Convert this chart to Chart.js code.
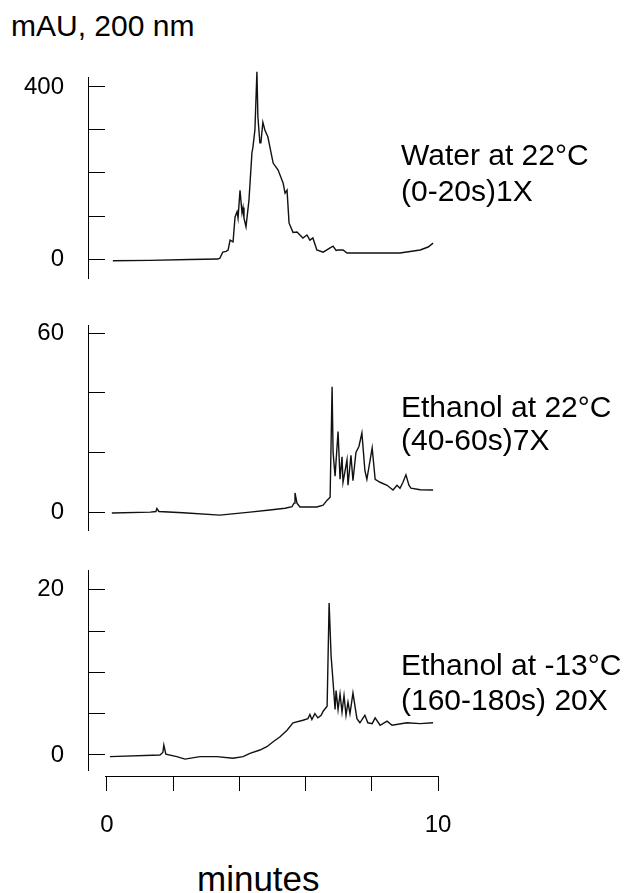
<!DOCTYPE html>
<html>
<head>
<meta charset="utf-8">
<script src="https://cdn.jsdelivr.net/npm/chart.js@4/dist/chart.umd.min.js"></script>
<style>
  body { margin: 0; background: #fff; width: 626px; height: 893px; position: relative; overflow: hidden;
         font-family: "Liberation Sans", Arial, sans-serif; color: #000; }
  .panel { position: absolute; left: 0; width: 460px; }
  .txt { position: absolute; white-space: nowrap; line-height: 1; }
  .lab { font-size: 30px; left: 401px; }
</style>
</head>
<body>
<div class="txt" style="left:11px; top:11px; font-size:30px;">mAU, 200 nm</div>

<div class="panel" style="top:50px; height:240px;"><canvas id="c1"></canvas></div>
<div class="panel" style="top:300px; height:240px;"><canvas id="c2"></canvas></div>
<div class="panel" style="top:545px; height:235px;"><canvas id="c3"></canvas></div>
<div class="panel" style="top:740px; height:100px;"><canvas id="cx"></canvas></div>

<div class="txt lab" style="top:140px;">Water at 22°C</div>
<div class="txt lab" style="top:176px;">(0-20s)1X</div>
<div class="txt lab" style="top:392px;">Ethanol at 22°C</div>
<div class="txt lab" style="top:425px;">(40-60s)7X</div>
<div class="txt lab" style="top:650px;">Ethanol at -13°C</div>
<div class="txt lab" style="top:685px;">(160-180s) 20X</div>

<div class="txt" style="left:197px; top:861px; font-size:35px;">minutes</div>

<script>
// ---- data ----
// water 22 C, 0-20 s, 1X
const waterTime = [0.18, 1.3, 2.5, 3.35, 3.41, 3.5, 3.6, 3.66, 3.72, 3.81, 3.87, 3.93, 3.96, 4.02, 4.08, 4.11, 4.14, 4.2,
  4.29, 4.38, 4.41, 4.47, 4.53, 4.56, 4.62, 4.65, 4.71, 4.77, 4.86, 5.02, 5.17, 5.32, 5.38, 5.44, 5.5, 5.62, 5.74,
  5.92, 6.04, 6.13, 6.22, 6.34, 6.53, 6.74, 6.83, 6.92, 6.98, 7.13, 7.25, 7.85, 8.34, 8.85, 9.46, 9.7, 9.85];
const waterMAU = [-4, -3, -1, 0, 2, 16, 18, 21, 44, 40, 98, 110, 95, 160, 107, 120, 95, 75,
  137, 247, 260, 300, 435, 330, 270, 270, 318, 300, 284, 223, 207, 177, 153, 160, 84, 62, 63,
  49, 56, 44, 49, 21, 16, 26, 30, 20, 21, 21, 14, 14, 14, 14, 21, 28, 37];

// ethanol 22 C, 40-60 s, 7X
const eth22Time = [0.15, 1.31, 1.48, 1.51, 1.57, 2.3, 3.41, 4.32, 4.92, 5.38, 5.59, 5.65, 5.68, 5.74, 5.83, 6.34,
  6.53, 6.65, 6.74, 6.8, 6.83, 6.89, 6.98, 7.04, 7.1, 7.13, 7.25, 7.28, 7.37, 7.43, 7.52, 7.61, 7.7, 7.79, 7.85,
  8.01, 8.1, 8.25, 8.46, 8.64, 8.76, 8.85, 8.94, 9.03, 9.12, 9.18, 9.46, 9.85];
const eth22MAU = [-0.3, 0, 0.2, 1.2, 0.2, -0.2, -1, 0, 0.7, 1.3, 1.8, 3, 6.4, 3, 1.7, 1.7,
  2.3, 4, 5, 42, 20, 12, 27, 11, 18.5, 10, 17.5, 9, 19, 10.5, 20, 22, 26.5, 14, 11,
  21.5, 11, 10, 9, 7.4, 9, 8, 10, 12.5, 9, 8, 7.5, 7.4];

// ethanol -13 C, 160-180 s, 20X
const ethColdTime = [0.09, 1.6, 1.69, 1.72, 1.78, 2.11, 2.36, 2.81, 3.32, 3.81, 4.11, 4.32, 4.62, 4.83, 5.02, 5.23,
  5.44, 5.62, 5.92, 6.07, 6.13, 6.19, 6.28, 6.37, 6.47, 6.53, 6.65, 6.71, 6.77, 6.83, 6.89, 6.92, 6.98, 7.04, 7.1,
  7.16, 7.22, 7.28, 7.34, 7.43, 7.55, 7.64, 7.79, 7.88, 8.01, 8.1, 8.25, 8.46, 8.61, 9.06, 9.46, 9.85];
const ethColdMAU = [-0.2, 0, 0.3, 1.2, 0.1, -0.2, -0.5, -0.2, -0.2, -0.4, -0.2, 0.2, 0.6, 1.0, 1.6, 2.2,
  3.0, 3.9, 4.2, 4.4, 4.9, 4.3, 5.0, 4.5, 4.8, 5.3, 5.9, 18.4, 12, 8.8, 5.5, 7.8, 5.5, 7.4, 5.2,
  7.2, 4.8, 6.4, 5.0, 7.5, 4.4, 3.9, 4.8, 3.9, 3.8, 4.5, 3.6, 4.1, 3.6, 3.9, 3.8, 3.9];

// axes
const waterTicks = [0, 100, 200, 300, 400];
const waterLabeled = [0, 400];
const eth22Ticks = [0, 20, 40, 60];
const eth22Labeled = [0, 60];
const ethColdTicks = [0, 5, 10, 15, 20];
const ethColdLabeled = [0, 20];
const minuteTicks = [0, 2, 4, 6, 8, 10];
const minuteLabeled = [0, 10];

const FONT = '"Liberation Sans", Arial, sans-serif';

function points(xs, ys) {
  return xs.map((x, i) => ({ x: x, y: ys[i] }));
}

function panel(id, xs, ys, yMin, yMax, ticks, labeled, pad) {
  return new Chart(document.getElementById(id), {
    type: 'line',
    data: {
      datasets: [{
        data: points(xs, ys),
        borderColor: '#111',
        borderWidth: 1.4,
        pointRadius: 0,
        tension: 0,
        fill: false,
        clip: false,
      }]
    },
    options: {
      responsive: true,
      maintainAspectRatio: false,
      animation: false,
      layout: { padding: { top: pad[0], bottom: pad[1], left: 0, right: 10 } },
      scales: {
        x: { type: 'linear', min: -0.57, max: 10.36, display: false },
        y: {
          min: yMin, max: yMax,
          // fixed width, and no extra room for the tick labels above/below
          afterFit: s => { s.width = 88; s.paddingTop = 0; s.paddingBottom = 0; },
          afterBuildTicks: s => { s.ticks = ticks.map(v => ({ value: v })); },
          border: { display: true, color: '#000', width: 1 },
          // negative length -> tick marks point into the plot
          grid: { drawOnChartArea: false, drawTicks: true, tickLength: -17, color: '#000', lineWidth: 1 },
          ticks: {
            padding: 41,
            color: '#000',
            font: { family: FONT, size: 24 },
            callback: v => labeled.includes(v) ? String(v) : ''
          }
        }
      },
      plugins: { legend: { display: false }, tooltip: { enabled: false } }
    }
  });
}

panel('c1', waterTime, waterMAU, -44, 423, waterTicks, waterLabeled, [27, 12]);
panel('c2', eth22Time, eth22MAU, -6, 62.7, eth22Ticks, eth22Labeled, [25, 10]);
panel('c3', ethColdTime, ethColdMAU, -1.82, 22.4, ethColdTicks, ethColdLabeled, [25, 10]);

// shared time axis at the bottom
new Chart(document.getElementById('cx'), {
  type: 'line',
  data: { datasets: [{ data: [] }] },
  options: {
    responsive: true,
    maintainAspectRatio: false,
    animation: false,
    layout: { padding: { top: 0, bottom: 0, left: 105, right: 22 } },
    scales: {
      x: {
        type: 'linear', min: -0.06, max: 10,
        afterFit: s => { s.height = 64; s.paddingLeft = 0; s.paddingRight = 0; },
        afterBuildTicks: s => { s.ticks = minuteTicks.map(v => ({ value: v })); },
        border: { display: true, color: '#000', width: 1 },
        grid: { drawOnChartArea: false, drawTicks: true, tickLength: 15, color: '#000', lineWidth: 1 },
        ticks: {
          padding: 20,
          maxRotation: 0,
          color: '#000',
          font: { family: FONT, size: 24 },
          callback: v => minuteLabeled.includes(v) ? String(v) : ''
        }
      },
      y: { display: false }
    },
    plugins: { legend: { display: false }, tooltip: { enabled: false } }
  }
});
</script>
</body>
</html>
